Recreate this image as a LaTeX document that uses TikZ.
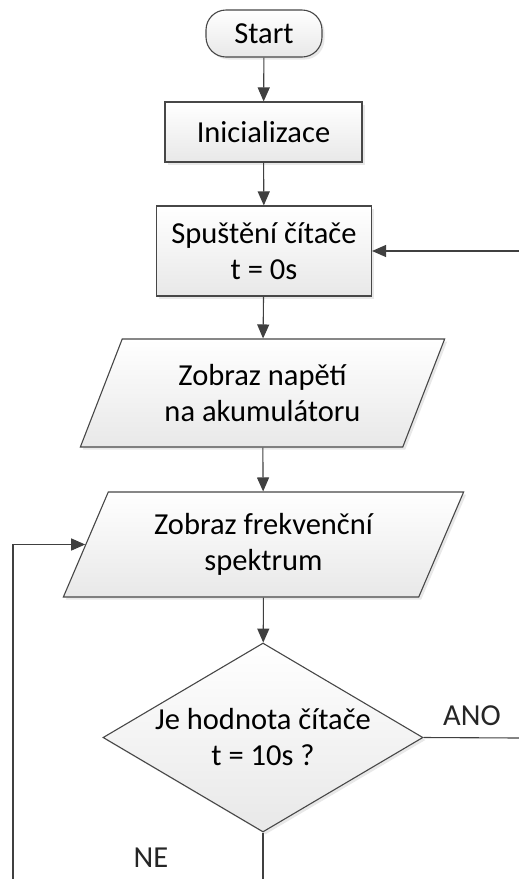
\documentclass[tikz,border=0pt]{standalone}
\usepackage{fontspec}
\setmainfont{Carlito}
\usetikzlibrary{arrows.meta,shapes.geometric,shadows}

\tikzset{
  blk/.style={draw=black!72, line width=1.1pt, top color=white, bottom color=black!9,
    drop shadow={shadow xshift=2.5pt,shadow yshift=-2.5pt,opacity=0.18},
    align=center, inner sep=0pt, font=\fontsize{30.5}{36}\selectfont},
  terminal/.style={blk, rounded corners=20pt, minimum width=116pt, minimum height=47pt},
  proc/.style={blk, minimum width=#1},
  io/.style={blk, trapezium, trapezium left angle=63, trapezium right angle=117,
    trapezium stretches=true},
  decision/.style={blk, diamond, aspect=1.69, minimum width=320pt, minimum height=189pt},
  arr/.style={draw=black!75, line width=1.1pt, -{Triangle[length=14pt,width=12pt]}},
  ln/.style={draw=black!75, line width=1.1pt},
  lbl/.style={font=\fontsize{30.5}{36}\selectfont, text=black!85}
}

\begin{document}
\begin{tikzpicture}[x=1pt,y=-1pt]
	\useasboundingbox (0,0) rectangle (519,879);
	\node[terminal] (start) at (264,33.5) {Start};
	\node[proc=197pt, minimum height=60pt] (init) at (263.5,132) {Inicializace};
	\node[proc=215pt, minimum height=90pt] (reset) at (264,251) {Spuštění čítače\\t = 0s};
	\node[io, minimum width=365pt, minimum height=108pt] (volt) at (262.5,393) {Zobraz napětí\\na akumulátoru};
	\node[io, minimum width=401pt, minimum height=105pt] (spec) at (263.5,544.5) {Zobraz frekvenční\\spektrum};
	\node[decision] (test) at (263,737.5) {Je hodnota čítače\\t = 10s ?};
	\node[lbl] (ano) at (472,716) {ANO};
	\node[lbl] (ne) at (151,858) {NE};
	\coordinate (back) at (519,251);
	\coordinate (yes) at (519,738);
	\coordinate (no) at (263,879);
	\coordinate (loop) at (13,879);

	\draw[arr] (start) -- (init);
	\draw[arr] (init) -- (reset);
	\draw[arr] (reset) -- (volt);
	\draw[arr] (volt) -- (spec);
	\draw[arr] (spec) -- (test);
	\draw[arr] (back) -- (reset.east);
	\draw[ln] (test.east) -- (yes);
	\draw[ln] (test.south) -- (no);
	\draw[arr] (loop) |- (spec.west);
\end{tikzpicture}
\end{document}
